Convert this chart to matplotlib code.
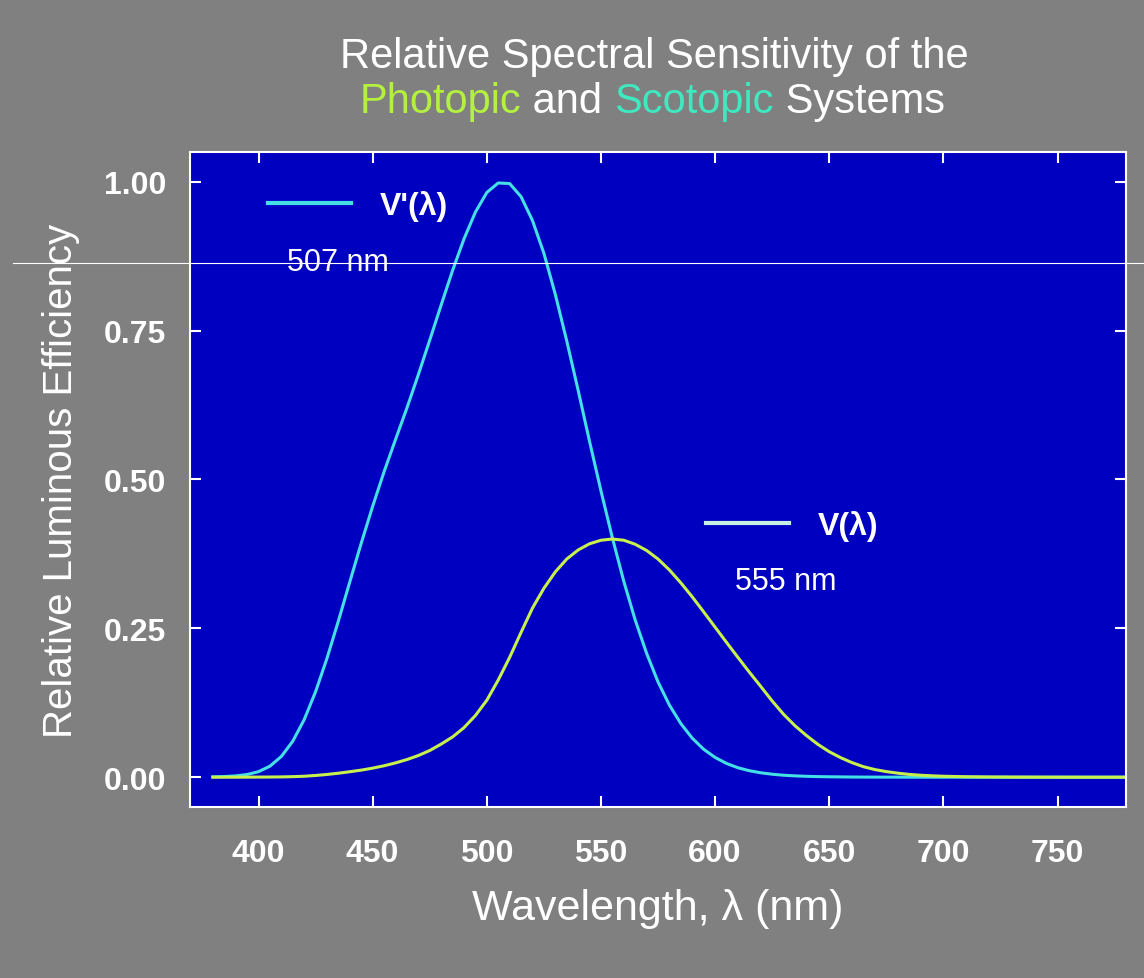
import matplotlib
matplotlib.use("Agg")
import matplotlib.pyplot as plt
from matplotlib.lines import Line2D

# wavelength grid (nm), 5 nm steps where the curves move
wavelength = [380, 385, 390, 395, 400, 405, 410, 415, 420, 425, 430, 435,
              440, 445, 450, 455, 460, 465, 470, 475, 480, 485, 490, 495,
              500, 505, 510, 515, 520, 525, 530, 535, 540, 545, 550, 555,
              560, 565, 570, 575, 580, 585, 590, 595, 600, 605, 610, 615,
              620, 625, 630, 635, 640, 645, 650, 655, 660, 665, 670, 675,
              680, 685, 690, 695, 700, 710, 720, 730, 740, 760, 780]

# scotopic V'(lambda), peak at 507 nm
scotopic = [0.0006, 0.0011, 0.0022, 0.0045, 0.0093, 0.0185, 0.0348, 0.0604,
            0.0966, 0.1436, 0.1998, 0.2625, 0.3281, 0.3931, 0.455, 0.513,
            0.567, 0.620, 0.676, 0.734, 0.793, 0.851, 0.904, 0.949,
            0.982, 0.998, 0.997, 0.975, 0.935, 0.880, 0.811, 0.733,
            0.650, 0.564, 0.481, 0.402, 0.329, 0.264, 0.208, 0.160,
            0.121, 0.090, 0.0655, 0.0469, 0.0332, 0.0231, 0.0159, 0.0109,
            0.0074, 0.0050, 0.0033, 0.0022, 0.0015, 0.0010, 0.0007, 0.0005,
            0.0003, 0.0002, 0.00015, 0.0001, 0.0001, 0.0, 0.0, 0.0,
            0.0, 0.0, 0.0, 0.0, 0.0, 0.0, 0.0]

# photopic V(lambda), drawn with its 555 nm peak at 0.40
photopic = [0.0, 0.0, 0.0, 0.0001, 0.0002, 0.0003, 0.0005, 0.0009,
            0.0016, 0.0029, 0.0046, 0.0067, 0.0092, 0.0119, 0.0152, 0.0192,
            0.024, 0.0296, 0.0364, 0.0448, 0.0556, 0.0676, 0.0832, 0.1036,
            0.1292, 0.1632, 0.2012, 0.2432, 0.284, 0.3172, 0.3448, 0.3664,
            0.3816, 0.392, 0.398, 0.400, 0.398, 0.3912, 0.3808, 0.3664,
            0.348, 0.3264, 0.3028, 0.2776, 0.252, 0.2264, 0.2012, 0.1764,
            0.1524, 0.128, 0.1056, 0.0864, 0.070, 0.0552, 0.0428, 0.0328,
            0.0244, 0.0176, 0.0128, 0.0094, 0.0068, 0.0047, 0.0033, 0.0023,
            0.0016, 0.0008, 0.0004, 0.0002, 0.0001, 0.0, 0.0]

xticks = [400, 450, 500, 550, 600, 650, 700, 750]
yticks = [0.0, 0.25, 0.5, 0.75, 1.0]

bg = "#808080"
face = "#0000C0"
cyan = "#44E0E6"
yellowgreen = "#C8F04C"

plt.rcParams["font.family"] = ["Liberation Sans", "DejaVu Sans"]

fig = plt.figure(figsize=(11.44, 9.79), dpi=100)
fig.patch.set_facecolor(bg)
ax = fig.add_axes([0.1661, 0.1747, 0.8182, 0.669])
ax.set_facecolor(face)

ax.plot(wavelength, scotopic, color=cyan, lw=2.2)
ax.plot(wavelength, photopic, color=yellowgreen, lw=2.2)

ax.set_xlim(370, 780)
ax.set_ylim(-0.05, 1.05)
ax.set_xticks(xticks)
ax.set_yticks(yticks)
ax.set_yticklabels(["%.2f" % v for v in yticks])

for s in ax.spines.values():
    s.set_color("white")
    s.set_linewidth(1.5)
ax.tick_params(direction="in", length=8, width=1.5, color="white",
               top=True, right=True, labelcolor="white", labelsize=23)
ax.tick_params(axis="x", pad=22)
ax.tick_params(axis="y", pad=17)
for lab in ax.get_xticklabels() + ax.get_yticklabels():
    lab.set_fontweight("bold")

ax.set_xlabel("Wavelength, λ (nm)", color="white", fontsize=31, labelpad=15)
ax.set_ylabel("Relative Luminous Efficiency", color="white", fontsize=29, labelpad=17)

# curve keys
leg1 = ax.legend([Line2D([], [], color=cyan, lw=3)], ["V'(λ)"], loc="center left",
                 bbox_to_anchor=(0.083, 0.918), frameon=False, borderpad=0,
                 borderaxespad=0, handlelength=2.6, handletextpad=0.9,
                 prop={"size": 23, "weight": "bold"}, labelcolor="white")
ax.add_artist(leg1)
ax.legend([Line2D([], [], color="#C8F0E0", lw=3)], ["V(λ)"], loc="center left",
          bbox_to_anchor=(0.551, 0.429), frameon=False, borderpad=0,
          borderaxespad=0, handlelength=2.6, handletextpad=0.9,
          prop={"size": 23, "weight": "bold"}, labelcolor="white")

ax.text(435, 0.865, "507 nm", color="white", fontsize=22, ha="center", va="center")
ax.text(631, 0.33, "555 nm", color="white", fontsize=22, ha="center", va="center")

# title, second line in three colours
fig.text(0.572, 0.942, "Relative Spectral Sensitivity of the", color="white",
         fontsize=30, ha="center", va="center")
parts = [("Photopic", "#B4F040"), (" and ", "white"), ("Scotopic", "#40E8C0"),
         (" Systems", "white")]
texts = [fig.text(0, 0.896, p, color=c, fontsize=30, ha="left", va="center")
         for p, c in parts]
renderer = fig.canvas.get_renderer()
widths = [t.get_window_extent(renderer).width for t in texts]
x = 0.570 * fig.bbox.width - sum(widths) / 2
for t, w in zip(texts, widths):
    t.set_x(x / fig.bbox.width)
    x += w

# thin white line across the scan
fig.add_artist(Line2D([0.0114, 1.0], [0.7303, 0.7303], color="white", lw=0.8))

fig.savefig("out.png", dpi=100, facecolor=bg)
